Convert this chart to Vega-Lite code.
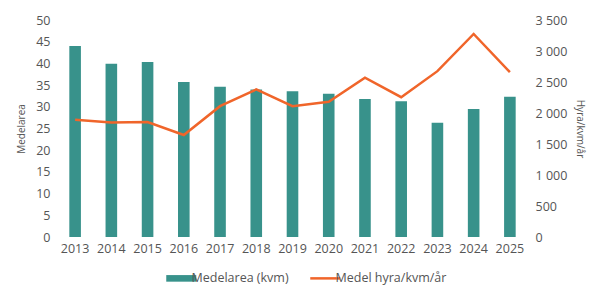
{
  "$schema": "https://vega.github.io/schema/vega-lite/v6.json",
  "width": 471,
  "height": 217,
  "autosize": {"type": "none"},
  "padding": {"left": 57, "top": 20, "right": 70, "bottom": 51},
  "background": "white",
  "config": {
    "view": {"stroke": null},
    "font": "Open Sans",
    "axis": {"labelFont": "Open Sans", "titleFont": "Open Sans", "labelColor": "#555555", "titleColor": "#555555", "grid": false, "domain": false, "ticks": false},
    "legend": {"labelFont": "Open Sans", "labelColor": "#555555"}
  },
  "data": {
    "values": [
      {"year": "2013", "area": 44.0, "rent": 1890},
      {"year": "2014", "area": 39.9, "rent": 1845},
      {"year": "2015", "area": 40.3, "rent": 1855},
      {"year": "2016", "area": 35.7, "rent": 1645},
      {"year": "2017", "area": 34.6, "rent": 2110},
      {"year": "2018", "area": 34.0, "rent": 2380},
      {"year": "2019", "area": 33.6, "rent": 2110},
      {"year": "2020", "area": 33.0, "rent": 2180},
      {"year": "2021", "area": 31.8, "rent": 2570},
      {"year": "2022", "area": 31.3, "rent": 2255},
      {"year": "2023", "area": 26.3, "rent": 2675},
      {"year": "2024", "area": 29.5, "rent": 3275},
      {"year": "2025", "area": 32.3, "rent": 2660}
    ]
  },
  "encoding": {
    "x": {
      "field": "year", "type": "ordinal",
      "scale": {"paddingInner": 0, "paddingOuter": 0},
      "axis": {"title": null, "labelAngle": 0, "labelFontSize": 12.5, "labelPadding": 5}
    }
  },
  "layer": [
    {
      "mark": {"type": "bar", "width": {"band": 0.32}},
      "encoding": {
        "y": {
          "field": "area", "type": "quantitative",
          "scale": {"domain": [0, 50], "nice": false},
          "axis": {"title": "Medelarea", "values": [0,5,10,15,20,25,30,35,40,45,50], "labelFontSize": 12.5, "labelPadding": 7, "titleFontSize": 10, "titleFontWeight": "normal", "titlePadding": 9}
        },
        "color": {
          "datum": "Medelarea (kvm)",
          "scale": {"domain": ["Medelarea (kvm)", "Medel hyra/kvm/år"], "range": ["#38928B", "#F0652A"]},
          "legend": {
            "title": null,
            "orient": "none",
            "direction": "horizontal",
            "legendX": 118,
            "legendY": 252,
            "labelFontSize": 12.5,
            "columnPadding": 16,
            "symbolSize": 900,
            "encode": {
              "symbols": {
                "update": {
                  "shape": {"signal": "datum.value === 'Medelarea (kvm)' ? 'M-1,-0.22H1V0.22H-1Z' : 'M-1,0H1'"},
                  "strokeWidth": {"signal": "datum.value === 'Medelarea (kvm)' ? 0 : 2.5"},
                  "fillOpacity": {"signal": "datum.value === 'Medelarea (kvm)' ? 1 : 0"}
                }
              }
            }
          }
        }
      }
    },
    {
      "mark": {"type": "line", "strokeWidth": 2.5},
      "encoding": {
        "y": {
          "field": "rent", "type": "quantitative",
          "scale": {"domain": [0, 3500], "nice": false},
          "axis": {"orient": "right", "title": "Hyra/kvm/år", "values": [0,500,1000,1500,2000,2500,3000,3500], "labelExpr": "replace(format(datum.value, ','), ',', ' ')", "labelFontSize": 12.5, "labelPadding": 7, "titleFontSize": 10, "titleFontWeight": "normal", "titlePadding": 8}
        },
        "color": {"datum": "Medel hyra/kvm/år"}
      }
    }
  ],
  "resolve": {"scale": {"y": "independent"}}
}
